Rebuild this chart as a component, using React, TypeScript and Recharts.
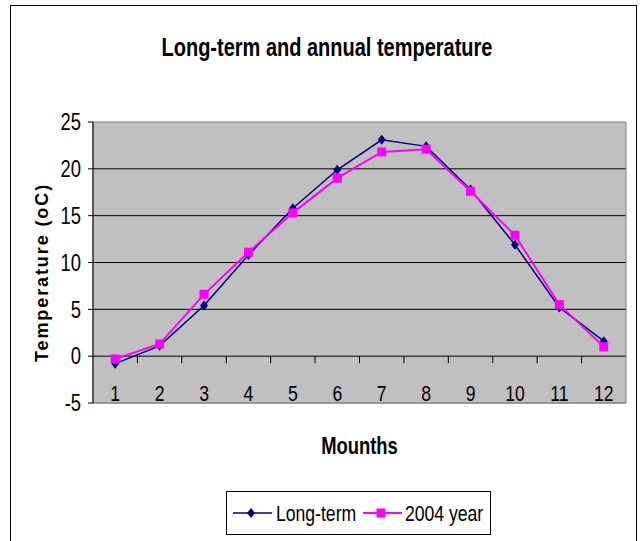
import { LineChart, Line, XAxis, YAxis, CartesianGrid, ReferenceLine, ReferenceArea } from 'recharts';

// months on the x axis
const months = [1, 2, 3, 4, 5, 6, 7, 8, 9, 10, 11, 12];
const longTerm = [-0.8, 1.1, 5.4, 10.8, 15.8, 19.9, 23.1, 22.4, 17.8, 11.9, 5.2, 1.6];
const year2004 = [-0.3, 1.3, 6.6, 11.1, 15.3, 19.0, 21.8, 22.1, 17.6, 12.9, 5.5, 1.0];
const yTicks = [-5, 0, 5, 10, 15, 20, 25];
const gridValues = [0, 5, 10, 15, 20];
const seriesNames = ['Long-term', '2004 year'];

const data = months.map((m, i) => ({ month: m, longTerm: longTerm[i], year2004: year2004[i] }));
// small tick marks between the categories, hanging off the zero line
const boundaries = months.slice(0, -1).map((m) => m + 0.5);

const FONT = "'Liberation Sans', Arial, sans-serif";
const NARROW = 0.8; // squeeze Liberation Sans to look like Arial Narrow
const NAVY = '#000080';
const MAGENTA = '#ff00ff';

const Diamond = (props: any) => {
    const { cx, cy } = props;
    if (cx == null || cy == null) return null;
    return <path d={`M${cx},${cy - 5} L${cx + 4},${cy} L${cx},${cy + 5} L${cx - 4},${cy} Z`} fill={NAVY} stroke="none" />;
};

const Square = (props: any) => {
    const { cx, cy } = props;
    if (cx == null || cy == null) return null;
    return <rect x={cx - 4.5} y={cy - 4.5} width={9} height={9} fill={MAGENTA} stroke="none" />;
};

const MonthTick = ({ x, y, payload }: any) => (
    <text
        transform={`translate(${x},${y - 2}) scale(${NARROW},1)`}
        textAnchor="middle"
        fontSize={22}
        fontFamily={FONT}
        fill="#000"
    >
        {payload.value}
    </text>
);

const TempTick = ({ x, y, payload }: any) => (
    <text
        transform={`translate(${x},${y}) scale(${NARROW},1)`}
        textAnchor="end"
        dominantBaseline="central"
        fontSize={23}
        fontFamily={FONT}
        fill="#000"
    >
        {payload.value}
    </text>
);

const LegendBox = () => (
    <svg width={266} height={45} style={{ position: 'absolute', left: 226, top: 491 }}>
        <rect x={0.5} y={0.5} width={264} height={43} fill="#fff" stroke="#000" />
        <line x1={7} y1={22} x2={46} y2={22} stroke={NAVY} strokeWidth={1.5} />
        <path d="M25,17 L29,22 L25,27 L21,22 Z" fill={NAVY} />
        <text transform={`translate(50,22) scale(${NARROW},1)`} dominantBaseline="central" fontFamily={FONT} fontSize={22}>
            {seriesNames[0]}
        </text>
        <line x1={137} y1={22} x2={176} y2={22} stroke={MAGENTA} strokeWidth={2} />
        <rect x={150.5} y={17.5} width={9} height={9} fill={MAGENTA} />
        <text transform={`translate(179,22) scale(${NARROW},1)`} dominantBaseline="central" fontFamily={FONT} fontSize={22}>
            {seriesNames[1]}
        </text>
    </svg>
);

export default function App() {
    return (
        <div style={{ position: 'absolute', left: 0, top: 0, width: 642, height: 541, background: '#fff', overflow: 'hidden' }}>
            <div style={{ position: 'absolute', left: 10, top: 5, width: 625, height: 560, border: '1px solid #000' }} />
            <div style={{ position: 'absolute', left: 0, top: 0 }}>
                <LineChart width={642} height={541} data={data} margin={{ top: 122, right: 16, bottom: 108, left: 0 }}>
                    <text
                        transform={`translate(327,56) scale(${NARROW},1)`}
                        textAnchor="middle"
                        fontFamily={FONT}
                        fontWeight="bold"
                        fontSize={25}
                    >
                        Long-term and annual temperature
                    </text>
                    <CartesianGrid horizontal vertical={false} horizontalValues={gridValues} stroke="#000" fill="#c0c0c0" fillOpacity={1} />
                    <ReferenceArea x1={0.5} x2={12.5} y1={-5} y2={25} fill="none" stroke="#808080" strokeWidth={1} />
                    {boundaries.map((b) => (
                        <ReferenceLine key={b} segment={[{ x: b, y: 0 }, { x: b, y: -0.75 }]} stroke="#000" />
                    ))}
                    <XAxis
                        dataKey="month"
                        type="number"
                        domain={[0.5, 12.5]}
                        ticks={months}
                        interval={0}
                        height={30}
                        axisLine={{ stroke: '#808080' }}
                        tickLine={false}
                        tickSize={0}
                        tickMargin={0}
                        tick={<MonthTick />}
                        label={{
                            content: ({ viewBox }: any) => (
                                <text
                                    transform={`translate(${viewBox.x + viewBox.width / 2},${viewBox.y + 51}) scale(${NARROW},1)`}
                                    textAnchor="middle"
                                    fontFamily={FONT}
                                    fontWeight="bold"
                                    fontSize={23}
                                >
                                    Mounths
                                </text>
                            ),
                        }}
                    />
                    <YAxis
                        width={93}
                        domain={[-5, 25]}
                        ticks={yTicks}
                        interval={0}
                        axisLine={{ stroke: '#000' }}
                        tickLine={{ stroke: '#000' }}
                        tickSize={5}
                        tickMargin={7}
                        tick={<TempTick />}
                        label={{
                            content: ({ viewBox }: any) => {
                                const cx = viewBox.x + 42;
                                const cy = viewBox.y + viewBox.height / 2 + 10;
                                return (
                                    <text
                                        x={cx}
                                        y={cy}
                                        transform={`rotate(-90, ${cx}, ${cy})`}
                                        textAnchor="middle"
                                        dominantBaseline="central"
                                        fontFamily={FONT}
                                        fontWeight="bold"
                                        fontSize={18}
                                        letterSpacing={1.9}
                                    >
                                        Temperature (oC)
                                    </text>
                                );
                            },
                        }}
                    />
                    <Line
                        type="linear"
                        dataKey="longTerm"
                        name={seriesNames[0]}
                        stroke={NAVY}
                        strokeWidth={1.5}
                        dot={<Diamond />}
                        activeDot={false}
                        isAnimationActive={false}
                    />
                    <Line
                        type="linear"
                        dataKey="year2004"
                        name={seriesNames[1]}
                        stroke={MAGENTA}
                        strokeWidth={2}
                        dot={<Square />}
                        activeDot={false}
                        isAnimationActive={false}
                    />
                </LineChart>
            </div>
            <LegendBox />
        </div>
    );
}
